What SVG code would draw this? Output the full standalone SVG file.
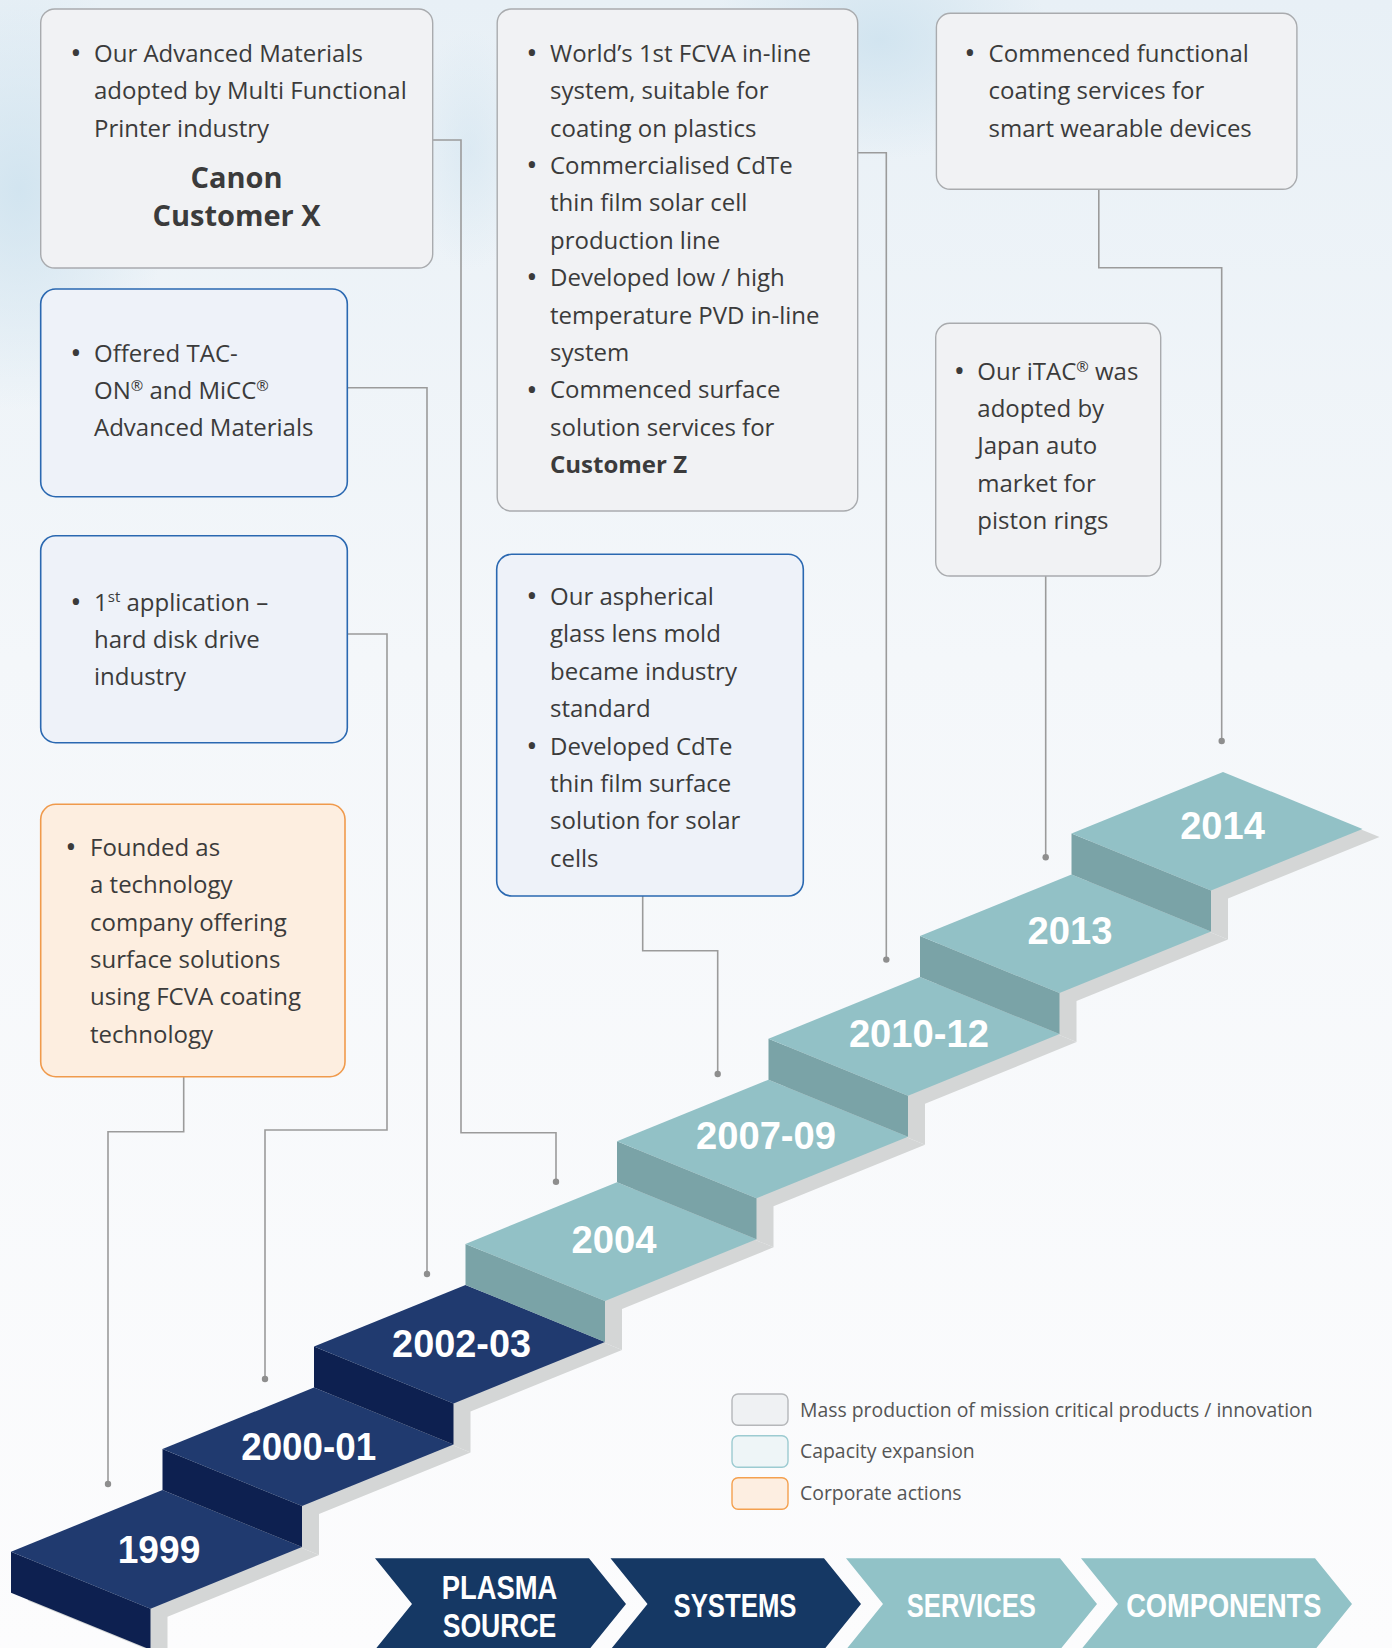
<svg xmlns="http://www.w3.org/2000/svg" width="1392" height="1648" viewBox="0 0 1392 1648">
  <defs>
    <linearGradient id="bg" x1="0" y1="0" x2="0" y2="1">
      <stop offset="0" stop-color="#e8f0f6"/>
      <stop offset="0.4" stop-color="#f4f7fa"/>
      <stop offset="1" stop-color="#fcfcfd"/>
    </linearGradient>
    <radialGradient id="glow" cx="0.5" cy="0.5" r="0.5">
      <stop offset="0" stop-color="#cfe3ef" stop-opacity="0.9"/>
      <stop offset="1" stop-color="#cfe3ef" stop-opacity="0"/>
    </radialGradient>
    <style>
      .box-gray { fill: #f1f2f4; stroke: #a9abae; stroke-width: 1.4; }
      .box-blue { fill: #eef2f9; stroke: #2a68b1; stroke-width: 1.6; }
      .box-orange { fill: #fdeee0; stroke: #f09a4c; stroke-width: 1.6; }
      .t { font-family: 'Open Sans', 'Noto Sans', sans-serif; font-size: 24px; fill: #3b3b3b; }
      .bul { text-anchor: middle; font-size: 30px; }
      .bold { font-weight: 700; }
      .sup { font-size: 15px; }
      .conn { fill: none; stroke: #9b9b9b; stroke-width: 1.6; }
      .dot { fill: #8e8e8e; }
      .navy-top { fill: #203a6f; }
      .navy-riser { fill: #0d2050; }
      .teal-top { fill: #92c1c6; }
      .teal-riser { fill: #7aa3a7; }
      .band { fill: #d4d6d6; }
      .yr { font-family: 'Liberation Sans', Arial, sans-serif; font-weight: 700; font-size: 39px; fill: #ffffff; text-anchor: middle; }
      .chev-navy { fill: #153864; }
      .chev-teal { fill: #91c2c7; }
      .chev-t { font-family: 'Liberation Sans', Arial, sans-serif; font-weight: 700; font-size: 34px; fill: #ffffff; text-anchor: middle; }
      .leg { font-family: 'Open Sans', 'Noto Sans', sans-serif; font-size: 19.4px; fill: #555555; }
    </style>
  </defs>

  <!-- background -->
  <rect x="0" y="0" width="1392" height="1648" fill="url(#bg)"/>
  <ellipse cx="20" cy="190" rx="150" ry="220" fill="url(#glow)"/>
  <ellipse cx="880" cy="40" rx="170" ry="120" fill="url(#glow)"/>
  <ellipse cx="470" cy="150" rx="60" ry="120" fill="url(#glow)" opacity="0.6"/>

  <!-- connectors -->
  <g id="connectors">
    <polyline class="conn" points="432.7,140 461,140 461,1132.7 556,1132.7 556,1181.7"/>
    <circle class="dot" cx="556" cy="1181.7" r="3.2"/>
    <polyline class="conn" points="347.3,387.7 427,387.7 427,1274"/>
    <circle class="dot" cx="427" cy="1274" r="3.2"/>
    <polyline class="conn" points="347.3,634 387,634 387,1130 265,1130 265,1379"/>
    <circle class="dot" cx="265" cy="1379" r="3.2"/>
    <polyline class="conn" points="183.7,1076.7 183.7,1131.7 108,1131.7 108,1484"/>
    <circle class="dot" cx="108" cy="1484" r="3.2"/>
    <polyline class="conn" points="857.7,152.7 886.3,152.7 886.3,959.6"/>
    <circle class="dot" cx="886.3" cy="959.6" r="3.2"/>
    <polyline class="conn" points="1098.8,189.3 1098.8,267.7 1221.7,267.7 1221.7,741"/>
    <circle class="dot" cx="1221.7" cy="741" r="3.2"/>
    <polyline class="conn" points="1045.7,576 1045.7,857.3"/>
    <circle class="dot" cx="1045.7" cy="857.3" r="3.2"/>
    <polyline class="conn" points="642.7,896 642.7,950.7 717.7,950.7 717.7,1074"/>
    <circle class="dot" cx="717.7" cy="1074" r="3.2"/>
  </g>

  <!-- Node: Canon / Customer X -->
  <g id="node-advanced-materials-printer">
    <rect class="box-gray" x="40.7" y="9" width="392" height="259" rx="14"/>
    <text class="t bul" x="76" y="63">•</text>
    <text class="t" x="94" y="61.7">Our Advanced Materials</text>
    <text class="t" x="94" y="99">adopted by Multi Functional</text>
    <text class="t" x="94" y="136.5">Printer industry</text>
    <text class="t bold" x="236.5" y="188.3" text-anchor="middle" style="font-size:29px">Canon</text>
    <text class="t bold" x="236.5" y="226" text-anchor="middle" style="font-size:29px">Customer X</text>
  </g>

  <!-- Node: TAC-ON -->
  <g id="node-tacon-micc">
    <rect class="box-blue" x="40.7" y="289" width="306.6" height="207.7" rx="15"/>
    <text class="t bul" x="76" y="363">•</text>
    <text class="t" x="94" y="361.7">Offered TAC-</text>
    <text class="t" x="94" y="399">ON<tspan class="sup" dy="-8">®</tspan><tspan dy="8"> and MiCC</tspan><tspan class="sup" dy="-8">®</tspan></text>
    <text class="t" x="94" y="436">Advanced Materials</text>
  </g>

  <!-- Node: 1st application -->
  <g id="node-first-application">
    <rect class="box-blue" x="40.7" y="535.7" width="306.6" height="207" rx="15"/>
    <text class="t bul" x="76" y="612">•</text>
    <text class="t" x="94" y="610.7">1<tspan class="sup" dy="-9">st</tspan><tspan dy="9"> application –</tspan></text>
    <text class="t" x="94" y="647.7">hard disk drive</text>
    <text class="t" x="94" y="685">industry</text>
  </g>

  <!-- Node: Founded -->
  <g id="node-founded">
    <rect class="box-orange" x="40.7" y="804.3" width="304.3" height="272.4" rx="15"/>
    <text class="t bul" x="71" y="857.3">•</text>
    <text class="t" x="90" y="856">Founded as</text>
    <text class="t" x="90" y="893.3">a technology</text>
    <text class="t" x="90" y="930.7">company offering</text>
    <text class="t" x="90" y="967.7">surface solutions</text>
    <text class="t" x="90" y="1005">using FCVA coating</text>
    <text class="t" x="90" y="1042.7">technology</text>
  </g>

  <!-- Node: FCVA in-line -->
  <g id="node-fcva-inline">
    <rect class="box-gray" x="497.2" y="9" width="360.5" height="502" rx="14"/>
    <text class="t bul" x="532" y="63">•</text>
    <text class="t" x="550" y="61.7">World’s 1st FCVA in-line</text>
    <text class="t" x="550" y="99.1">system, suitable for</text>
    <text class="t" x="550" y="136.5">coating on plastics</text>
    <text class="t bul" x="532" y="175.2">•</text>
    <text class="t" x="550" y="173.9">Commercialised CdTe</text>
    <text class="t" x="550" y="211.3">thin film solar cell</text>
    <text class="t" x="550" y="248.7">production line</text>
    <text class="t bul" x="532" y="287.4">•</text>
    <text class="t" x="550" y="286.1">Developed low / high</text>
    <text class="t" x="550" y="323.5">temperature PVD in-line</text>
    <text class="t" x="550" y="360.9">system</text>
    <text class="t bul" x="532" y="399.6">•</text>
    <text class="t" x="550" y="398.3">Commenced surface</text>
    <text class="t" x="550" y="435.7">solution services for</text>
    <text class="t bold" x="550" y="473.1">Customer Z</text>
  </g>

  <!-- Node: Aspherical lens -->
  <g id="node-aspherical">
    <rect class="box-blue" x="496.7" y="554.3" width="306.6" height="341.7" rx="15"/>
    <text class="t bul" x="532" y="606.3">•</text>
    <text class="t" x="550" y="605">Our aspherical</text>
    <text class="t" x="550" y="642.4">glass lens mold</text>
    <text class="t" x="550" y="679.8">became industry</text>
    <text class="t" x="550" y="717.2">standard</text>
    <text class="t bul" x="532" y="755.9">•</text>
    <text class="t" x="550" y="754.6">Developed CdTe</text>
    <text class="t" x="550" y="792">thin film surface</text>
    <text class="t" x="550" y="829.4">solution for solar</text>
    <text class="t" x="550" y="866.8">cells</text>
  </g>

  <!-- Node: Functional coating -->
  <g id="node-functional-coating">
    <rect class="box-gray" x="936.4" y="13.3" width="360.5" height="176" rx="14"/>
    <text class="t bul" x="970" y="63">•</text>
    <text class="t" x="988.6" y="61.7">Commenced functional</text>
    <text class="t" x="988.6" y="99.1">coating services for</text>
    <text class="t" x="988.6" y="136.5">smart wearable devices</text>
  </g>

  <!-- Node: iTAC -->
  <g id="node-itac">
    <rect class="box-gray" x="935.7" y="323.3" width="225" height="252.7" rx="14"/>
    <text class="t bul" x="959.3" y="381.3">•</text>
    <text class="t" x="977.3" y="380">Our iTAC<tspan class="sup" dy="-8">®</tspan><tspan dy="8"> was</tspan></text>
    <text class="t" x="977.3" y="417.3">adopted by</text>
    <text class="t" x="977.3" y="454.3">Japan auto</text>
    <text class="t" x="977.3" y="491.7">market for</text>
    <text class="t" x="977.3" y="529.3">piston rings</text>
  </g>

  <!-- Staircase -->
  <g id="staircase">
    <g id="stair-side-band" transform="translate(17,8)">
      <polygon class="band" points="11,1551.7 162.5,1490.1 302,1547.1 150.5,1608.7 150.5,1649.7 11,1592.7"/>
      <polygon class="band" points="162.5,1449.1 314,1387.5 453.5,1444.5 302,1506.1 302,1547.1 162.5,1490.1"/>
      <polygon class="band" points="314,1346.5 465.5,1284.9 605,1341.9 453.5,1403.5 453.5,1444.5 314,1387.5"/>
      <polygon class="band" points="465.5,1243.9 617,1182.3 756.5,1239.3 605,1300.9 605,1341.9 465.5,1284.9"/>
      <polygon class="band" points="617,1141.3 768.5,1079.7 908,1136.7 756.5,1198.3 756.5,1239.3 617,1182.3"/>
      <polygon class="band" points="768.5,1038.7 920,977.1 1059.5,1034.1 908,1095.7 908,1136.7 768.5,1079.7"/>
      <polygon class="band" points="920,936.1 1071.5,874.5 1211,931.5 1059.5,993.1 1059.5,1034.1 920,977.1"/>
      <polygon class="band" points="1071.5,833.5 1223,771.9 1362.5,828.9 1211,890.5 1211,931.5 1071.5,874.5"/>
    </g>

    <g id="step-1999">
      <polygon class="navy-riser" points="11,1551.7 150.5,1608.7 150.5,1649.7 11,1592.7"/>
      <polygon class="navy-top" points="11,1551.7 162.5,1490.1 302,1547.1 150.5,1608.7"/>
      <text class="yr" x="159" y="1563.3" textLength="82.6" lengthAdjust="spacingAndGlyphs">1999</text>
    </g>
    <g id="step-2000-01">
      <polygon class="navy-riser" points="162.5,1449.1 302,1506.1 302,1547.1 162.5,1490.1"/>
      <polygon class="navy-top" points="162.5,1449.1 314,1387.5 453.5,1444.5 302,1506.1"/>
      <text class="yr" x="308.7" y="1460" textLength="135" lengthAdjust="spacingAndGlyphs">2000-01</text>
    </g>
    <g id="step-2002-03">
      <polygon class="navy-riser" points="314,1346.5 453.5,1403.5 453.5,1444.5 314,1387.5"/>
      <polygon class="navy-top" points="314,1346.5 465.5,1284.9 605,1341.9 453.5,1403.5"/>
      <text class="yr" x="461.6" y="1356.7" textLength="139" lengthAdjust="spacingAndGlyphs">2002-03</text>
    </g>
    <g id="step-2004">
      <polygon class="teal-riser" points="465.5,1243.9 605,1300.9 605,1341.9 465.5,1284.9"/>
      <polygon class="teal-top" points="465.5,1243.9 617,1182.3 756.5,1239.3 605,1300.9"/>
      <text class="yr" x="614" y="1253.3" textLength="85" lengthAdjust="spacingAndGlyphs">2004</text>
    </g>
    <g id="step-2007-09">
      <polygon class="teal-riser" points="617,1141.3 756.5,1198.3 756.5,1239.3 617,1182.3"/>
      <polygon class="teal-top" points="617,1141.3 768.5,1079.7 908,1136.7 756.5,1198.3"/>
      <text class="yr" x="766" y="1149.3" textLength="140" lengthAdjust="spacingAndGlyphs">2007-09</text>
    </g>
    <g id="step-2010-12">
      <polygon class="teal-riser" points="768.5,1038.7 908,1095.7 908,1136.7 768.5,1079.7"/>
      <polygon class="teal-top" points="768.5,1038.7 920,977.1 1059.5,1034.1 908,1095.7"/>
      <text class="yr" x="918.9" y="1046.7" textLength="140" lengthAdjust="spacingAndGlyphs">2010-12</text>
    </g>
    <g id="step-2013">
      <polygon class="teal-riser" points="920,936.1 1059.5,993.1 1059.5,1034.1 920,977.1"/>
      <polygon class="teal-top" points="920,936.1 1071.5,874.5 1211,931.5 1059.5,993.1"/>
      <text class="yr" x="1070" y="944.3" textLength="85" lengthAdjust="spacingAndGlyphs">2013</text>
    </g>
    <g id="step-2014">
      <polygon class="teal-riser" points="1071.5,833.5 1211,890.5 1211,931.5 1071.5,874.5"/>
      <polygon class="teal-top" points="1071.5,833.5 1223,771.9 1362.5,828.9 1211,890.5"/>
      <text class="yr" x="1222.5" y="839.3" textLength="84.7" lengthAdjust="spacingAndGlyphs">2014</text>
    </g>
  </g>

  <!-- Legend -->
  <g id="legend">
    <rect x="732" y="1394" width="56" height="31.3" rx="6" fill="#eff1f3" stroke="#b5b7ba" stroke-width="1.4"/>
    <text class="leg" x="800" y="1416.7">Mass production of mission critical products / innovation</text>
    <rect x="732" y="1435.7" width="56" height="31.6" rx="6" fill="#eef5f7" stroke="#9ccbd1" stroke-width="1.4"/>
    <text class="leg" x="800" y="1458.3">Capacity expansion</text>
    <rect x="732" y="1477.7" width="56" height="31.6" rx="6" fill="#fdeee1" stroke="#f4a04f" stroke-width="1.4"/>
    <text class="leg" x="800" y="1500">Corporate actions</text>
  </g>

  <!-- Chevrons -->
  <g id="chevron-plasma-source">
    <polygon class="chev-navy" points="375,1558.3 589,1558.3 626,1604 589,1649.7 375,1649.7 412,1604"/>
    <text class="chev-t" x="499.5" y="1599.3" textLength="115.6" lengthAdjust="spacingAndGlyphs">PLASMA</text>
    <text class="chev-t" x="499.5" y="1636.7" textLength="113.6" lengthAdjust="spacingAndGlyphs">SOURCE</text>
  </g>
  <g id="chevron-systems">
    <polygon class="chev-navy" points="610.5,1558.3 824,1558.3 861,1604 824,1649.7 610.5,1649.7 647.5,1604"/>
    <text class="chev-t" x="735" y="1616.7" textLength="123" lengthAdjust="spacingAndGlyphs">SYSTEMS</text>
  </g>
  <g id="chevron-services">
    <polygon class="chev-teal" points="846,1558.3 1060,1558.3 1097,1604 1060,1649.7 846,1649.7 883,1604"/>
    <text class="chev-t" x="971.3" y="1616.7" textLength="129" lengthAdjust="spacingAndGlyphs">SERVICES</text>
  </g>
  <g id="chevron-components">
    <polygon class="chev-teal" points="1081,1558.3 1315,1558.3 1352,1604 1315,1649.7 1081,1649.7 1118,1604"/>
    <text class="chev-t" x="1223.8" y="1616.7" textLength="195.3" lengthAdjust="spacingAndGlyphs">COMPONENTS</text>
  </g>
</svg>
